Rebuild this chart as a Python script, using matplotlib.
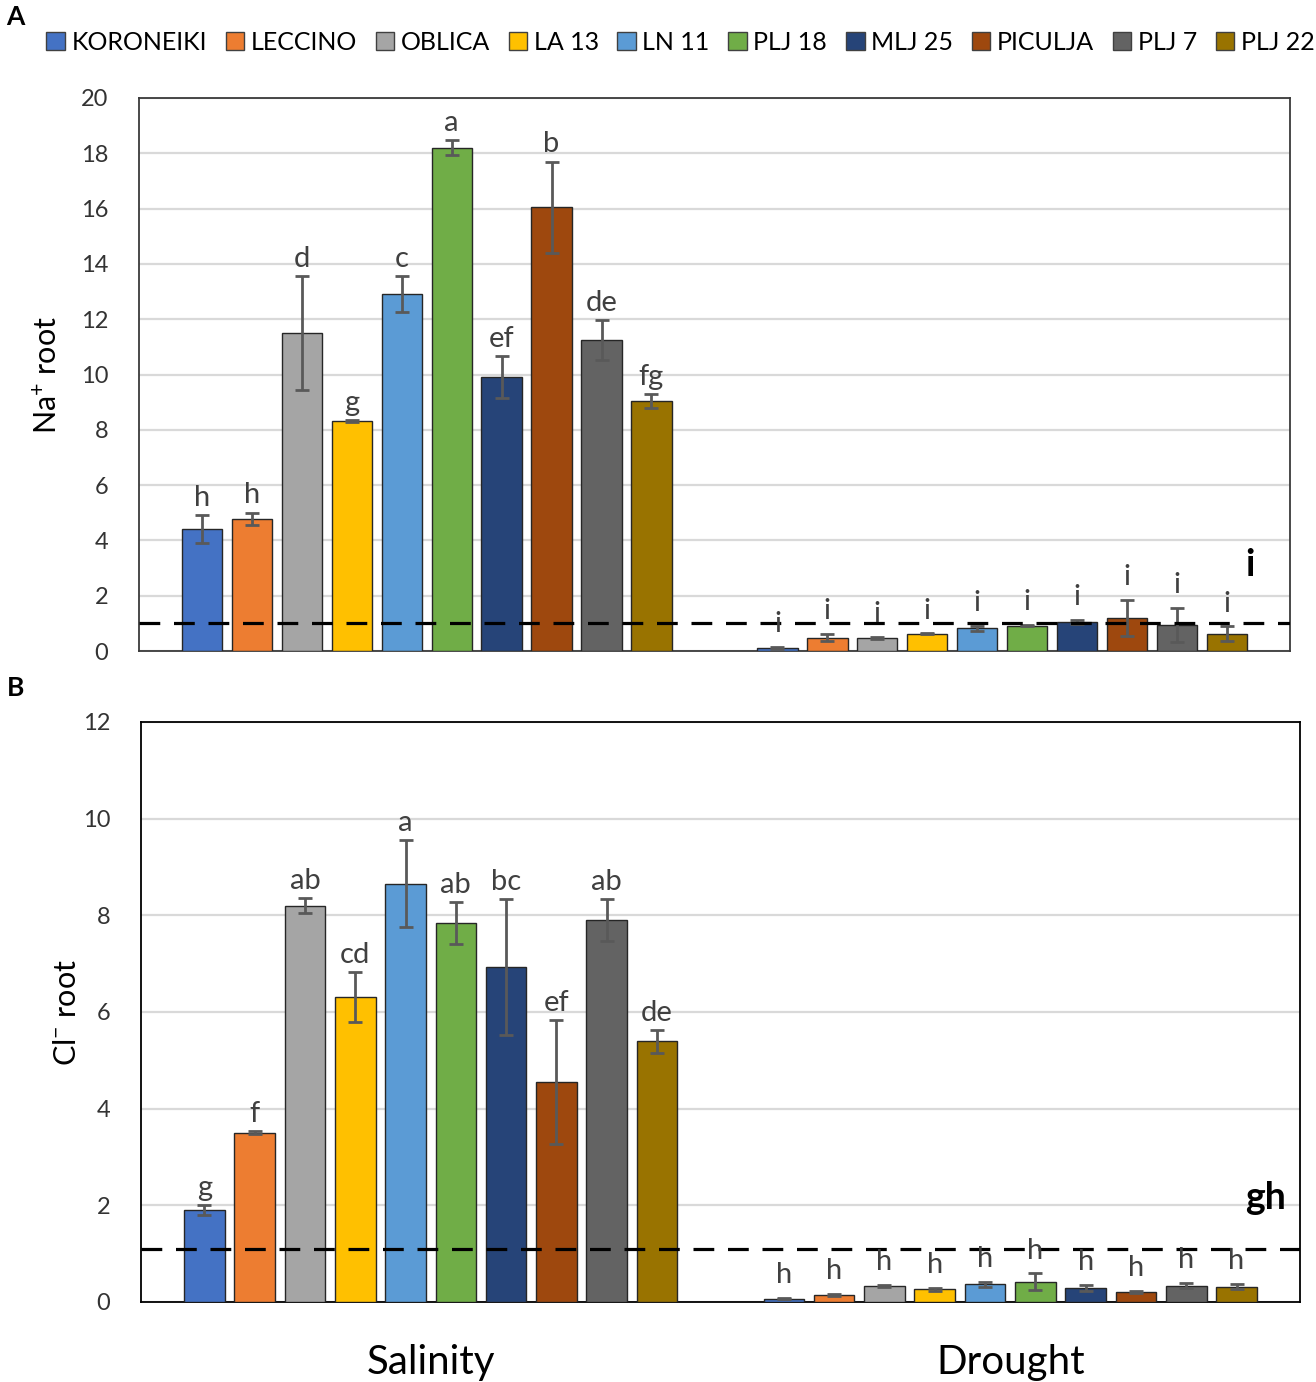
import matplotlib
matplotlib.use("Agg")
import matplotlib.pyplot as plt
from matplotlib.patches import Patch
import numpy as np

plt.rcParams['font.family'] = ['Lato', 'DejaVu Sans']
plt.rcParams['mathtext.default'] = 'regular'

# ---------------- data ----------------
treatments = ['Salinity', 'Drought']
cultivars = ['KORONEIKI', 'LECCINO', 'OBLICA', 'LA 13', 'LN 11',
             'PLJ 18', 'MLJ 25', 'PICULJA', 'PLJ 7', 'PLJ 22']
colors = ['#4472C4', '#ED7D31', '#A5A5A5', '#FFC000', '#5B9BD5',
          '#70AD47', '#264478', '#9E480E', '#636363', '#997300']

na_salinity = [4.41, 4.79, 11.5, 8.33, 12.9, 18.2, 9.91, 16.04, 11.25, 9.04]
na_salinity_err = [0.52, 0.22, 2.05, 0.03, 0.65, 0.27, 0.75, 1.66, 0.72, 0.24]
na_salinity_letters = ['h', 'h', 'd', 'g', 'c', 'a', 'ef', 'b', 'de', 'fg']
na_drought = [0.11, 0.48, 0.48, 0.62, 0.82, 0.92, 1.06, 1.20, 0.95, 0.62]
na_drought_err = [0.03, 0.13, 0.03, 0.02, 0.10, 0.03, 0.08, 0.65, 0.62, 0.27]
na_drought_letters = ['i'] * 10
na_threshold = 1.0
na_threshold_letter = 'i'

cl_salinity = [1.90, 3.50, 8.20, 6.31, 8.65, 7.84, 6.93, 4.55, 7.90, 5.39]
cl_salinity_err = [0.10, 0.03, 0.15, 0.51, 0.90, 0.43, 1.40, 1.29, 0.43, 0.24]
cl_salinity_letters = ['g', 'f', 'ab', 'cd', 'a', 'ab', 'bc', 'ef', 'ab', 'de']
cl_drought = [0.07, 0.15, 0.34, 0.26, 0.37, 0.42, 0.29, 0.21, 0.34, 0.32]
cl_drought_err = [0.01, 0.02, 0.02, 0.03, 0.05, 0.17, 0.06, 0.02, 0.05, 0.05]
cl_drought_letters = ['h'] * 10
cl_threshold = 1.1
cl_threshold_letter = 'gh'

# ---------------- figure ----------------
fig = plt.figure(figsize=(13.16, 13.82), dpi=100)
axA = fig.add_axes([0.1056, 0.5289, 0.8746, 0.4002])
axB = fig.add_axes([0.1071, 0.0579, 0.8807, 0.4197])

spacing = 0.0868
width = 0.07
n = len(cultivars)


def draw(ax, sal, sal_err, sal_let, dro, dro_err, dro_let, ymax, thr, thr_letter,
         thr_xy, spine_color, ylabel, show_xlabels):
    groups = [(sal, sal_err, sal_let, 3), (dro, dro_err, dro_let, 7)]
    for g, (vals, errs, lets, off) in enumerate(groups):
        center = g + 0.5
        for i in range(n):
            x = center + (i - (n - 1) / 2) * spacing
            ax.bar(x, vals[i], width=width, color=colors[i], edgecolor='#262626',
                   linewidth=1.0, zorder=3)
            ax.errorbar(x, vals[i], yerr=errs[i], color='#595959', capsize=5,
                        elinewidth=2, capthick=2, zorder=4)
            ax.annotate(lets[i], (x, vals[i] + errs[i]), xytext=(0, off),
                        textcoords='offset points', ha='center', va='bottom',
                        fontsize=21, color='#404040', zorder=6)
    ax.axhline(thr, color='black', lw=2.3, linestyle=(0, (6.5, 4.3)), zorder=5)
    ax.text(thr_xy[0], thr_xy[1], thr_letter, ha='center', va='center',
            fontsize=27, fontweight='bold', color='black', zorder=6)
    ax.set_xlim(0, 2)
    ax.set_ylim(0, ymax)
    ax.set_yticks(np.arange(0, ymax + 0.1, 2))
    ax.yaxis.grid(True, color='#d9d9d9', lw=1.6, zorder=0)
    ax.set_axisbelow(True)
    ax.tick_params(axis='y', length=0, labelsize=17, pad=22, labelcolor='#333333')
    if show_xlabels:
        ax.set_xticks([0.5, 1.5])
        ax.set_xticklabels(treatments, fontsize=29, color='black')
        ax.tick_params(axis='x', length=0, pad=30)
    else:
        ax.set_xticks([])
    for s in ax.spines.values():
        s.set_color(spine_color)
        s.set_linewidth(1.3)
    ax.set_ylabel(ylabel, fontsize=22, color='black')


draw(axA, na_salinity, na_salinity_err, na_salinity_letters,
     na_drought, na_drought_err, na_drought_letters, 20, na_threshold,
     na_threshold_letter, (1.93, 3.1), '#3a3a3a', 'Na$^{+}$ root', False)
axA.yaxis.set_label_coords(-0.067, 0.5)

draw(axB, cl_salinity, cl_salinity_err, cl_salinity_letters,
     cl_drought, cl_drought_err, cl_drought_letters, 12, cl_threshold,
     cl_threshold_letter, (1.94, 2.15), 'black', 'Cl$^{-}$ root', True)
axB.yaxis.set_label_coords(-0.052, 0.5)

handles = [Patch(facecolor=c, edgecolor='#404040', linewidth=1.0) for c in colors]
fig.legend(handles, cultivars, loc='center', bbox_to_anchor=(0.517, 0.9696),
           ncol=10, frameon=False, fontsize=18, handlelength=0.75,
           handleheight=0.75, handletextpad=0.25, columnspacing=0.75,
           borderpad=0, borderaxespad=0)

fig.text(0.005, 0.988, 'A', fontsize=19, fontweight='bold', ha='left', va='center')
fig.text(0.005, 0.502, 'B', fontsize=19, fontweight='bold', ha='left', va='center')

fig.savefig('out.png', dpi=100)
